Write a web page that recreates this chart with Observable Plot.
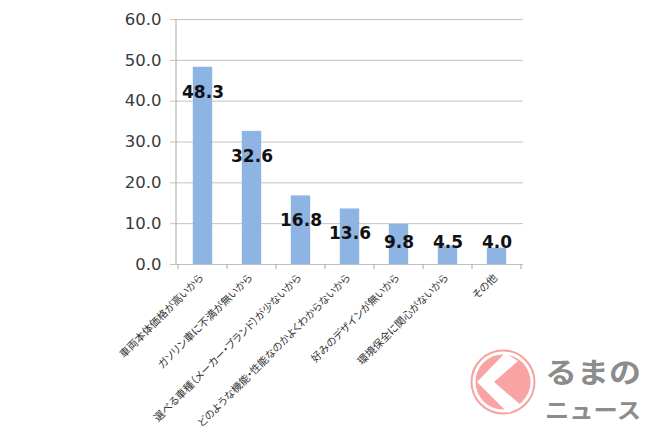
<!DOCTYPE html>
<html>
<head>
<meta charset="utf-8">
<script src="https://cdn.jsdelivr.net/npm/d3@7"></script>
<script src="https://cdn.jsdelivr.net/npm/@observablehq/plot@0.6"></script>
<style>
  html, body { margin: 0; padding: 0; background: #fff; }
  #wrap { position: relative; width: 650px; height: 433px; overflow: hidden; }
  #logo { position: absolute; left: 0; top: 0; pointer-events: none; }
  .jp text { font-feature-settings: "palt"; }
</style>
</head>
<body>
<div id="wrap"></div>
<script>
const categories = [
  "車両本体価格が高いから",
  "ガソリン車に不満が無いから",
  "選べる車種（メーカー・ブランド）が少ないから",
  "どのような機能・性能なのかよくわからないから",
  "好みのデザインが無いから",
  "環境保全に関心がないから",
  "その他"
];
const values = [48.3, 32.6, 16.8, 13.6, 9.8, 4.5, 4.0];
const yTicks = [0, 10, 20, 30, 40, 50, 60];

const data = categories.map((c, i) => ({cat: c, value: values[i]}));

const gridColor = "#c3c3c3";
const axisColor = "#a8a8a8";

const boundaryTicks = (index, scales, values, dims) => {
  const g = d3.create("svg:g");
  const x = scales.x;
  const bw = x.bandwidth();
  const y0 = dims.height - dims.marginBottom;
  const xs = categories.map(c => x(c)).concat([x(categories[categories.length - 1]) + bw]);
  g.append("line")
    .attr("x1", dims.marginLeft).attr("x2", dims.marginLeft)
    .attr("y1", dims.marginTop).attr("y2", y0)
    .attr("stroke", axisColor);
  g.selectAll("line.t").data(xs).join("line")
    .attr("class", "t")
    .attr("x1", d => d).attr("x2", d => d)
    .attr("y1", y0).attr("y2", y0 + 5)
    .attr("stroke", axisColor);
  return g.node();
};

const chart = Plot.plot({
  width: 650,
  height: 433,
  marginLeft: 176,
  marginRight: 127,
  marginTop: 19,
  marginBottom: 169,
  style: {background: "transparent"},
  x: {domain: categories, padding: 0, axis: null},
  y: {domain: [0, 60], axis: null, label: null},
  marks: [
    Plot.ruleY(yTicks, {stroke: gridColor}),
    Plot.axisY(yTicks, {
      tickSize: 6,
      tickPadding: 9,
      stroke: gridColor,
      fill: "#3a3a3a",
      fontSize: 16.5,
      fontFamily: "DejaVu Sans",
      label: null,
      tickFormat: d => d.toFixed(1)
    }),
    Plot.barY(data, {x: "cat", y: "value", fill: "#8db4e2", insetLeft: 14.8, insetRight: 14.8}),
    boundaryTicks,
    Plot.text(data, {
      x: "cat",
      y: d => Math.max(d.value, 11.5),
      dy: 25,
      text: d => d.value.toFixed(1),
      fontSize: 17,
      fontWeight: "bold",
      fontFamily: "DejaVu Sans",
      fill: "#111"
    }),
    Plot.text(categories, {
      x: d => d,
      frameAnchor: "bottom",
      rotate: -45,
      textAnchor: "end",
      dy: 14,
      dx: 1,
      fontSize: 10.5,
      fontFamily: "Noto Sans CJK JP",
      fill: "#333",
      className: "jp"
    })
  ]
});

const wrap = document.getElementById("wrap");
wrap.appendChild(chart);

// watermark logo (decoration)
const logo = d3.create("svg").attr("id", "logo").attr("width", 650).attr("height", 433);
logo.append("circle").attr("cx", 503).attr("cy", 382).attr("r", 31.5)
  .attr("fill", "none").attr("stroke", "#f7a0a0").attr("stroke-width", 2);
logo.append("circle").attr("cx", 503).attr("cy", 382).attr("r", 27.5).attr("fill", "#f9a3a3");
logo.append("polygon")
  .attr("points", "477,382 505,353 518,361 494,382 521,405 508,413")
  .attr("fill", "#fff");
logo.append("text").attr("x", 545).attr("y", 383)
  .attr("font-family", "Noto Sans CJK JP").attr("font-weight", "bold")
  .attr("font-size", 28).attr("fill", "#8c8c8c")
  .attr("textLength", 96).attr("lengthAdjust", "spacingAndGlyphs")
  .text("るまの");
logo.append("text").attr("x", 545).attr("y", 418)
  .attr("font-family", "Noto Sans CJK JP").attr("font-weight", "bold")
  .attr("font-size", 22).attr("fill", "#8c8c8c")
  .attr("textLength", 96).attr("lengthAdjust", "spacingAndGlyphs")
  .text("ニュース");
wrap.appendChild(logo.node());
</script>
</body>
</html>
